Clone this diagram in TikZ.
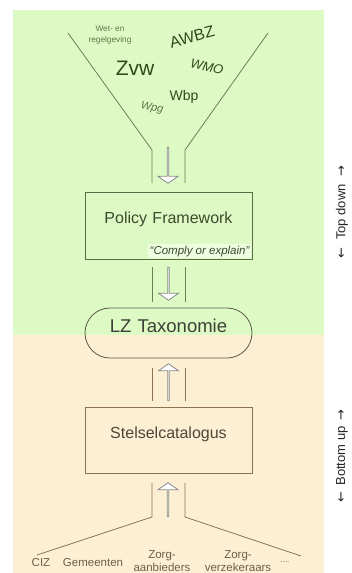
\documentclass[tikz,border=0pt]{standalone}
\usepackage{xcolor}
\usepackage{fontspec}
\setmainfont{Liberation Sans}
\newfontfamily\pijlfont{DejaVu Sans}
\usepackage{tikz}
\usetikzlibrary{shapes.geometric, shapes.arrows, arrows, calc, positioning, fit}

\definecolor{topgreen}{HTML}{DDFAC4}
\definecolor{bottompeach}{HTML}{FDEFD3}
\definecolor{funnelline}{HTML}{6B7F55}
\definecolor{lawgreen}{HTML}{2F4A1C}
\definecolor{lawlight}{HTML}{5E7548}
\definecolor{policyline}{HTML}{5B6B45}
\definecolor{policytext}{HTML}{3D4A2E}
\definecolor{complybg}{HTML}{EEFCE2}
\definecolor{lzline}{HTML}{5A5A48}
\definecolor{lztext}{HTML}{3F3F37}
\definecolor{catline}{HTML}{8C7452}
\definecolor{cattext}{HTML}{4D4638}
\definecolor{sourcetext}{HTML}{6E5E48}
\definecolor{arrowgray}{HTML}{8A8A8A}

\begin{document}
\begin{tikzpicture}[x=1pt, y=1pt,
  blockarrow/.style = {single arrow, draw=arrowgray, fill=white, inner sep=0pt, line width=0.8pt,
    minimum width=20pt, single arrow head extend=5pt, single arrow tip angle=110}]
					\tikzset{kader/.style={draw, rectangle, inner sep=0pt, align=center, thick, font=\fontsize{16}{18}\selectfont}}
					\tikzset{law/.style={text=lawgreen, inner sep=0pt}}
					\tikzset{lijn/.style={line width=0.8pt}}

					\useasboundingbox (0,0) rectangle (351,-573);

					% Achtergrond
					\fill[topgreen] (13,-10) rectangle (324,-335);
					\fill[bottompeach] (13,-335) rectangle (324,-573);

					% Trechter (top down)
					\draw[funnelline, lijn] (68,-33) -- (152,-150) -- (152,-183);
					\draw[funnelline, lijn] (268,-33) -- (185,-150) -- (185,-183);

					\node[law, text=lawlight, align=center, font=\fontsize{8.3}{11}\selectfont] (wet) at (110,-35) {Wet- en\\regelgeving};
					\node[law, rotate=15, font=\fontsize{16}{18}\selectfont] (awbz) at (192,-37) {AWBZ};
					\node[law, font=\fontsize{21}{24}\selectfont] (zvw) at (135,-68) {Zvw};
					\node[law, rotate=-12, font=\itshape\fontsize{13}{15}\selectfont] (wmo) at (207,-67) {WMO};
					\node[law, font=\fontsize{14}{16}\selectfont] (wbp) at (184,-97) {Wbp};
					\node[law, text=lawlight, rotate=-12, font=\itshape\fontsize{11}{13}\selectfont] (wpg) at (152,-108) {Wpg};

					% Blokken
					\node[fit={(85,-192) (252,-259)}, kader, draw=policyline, text=policytext] (policy) {Policy Framework};
					\node[anchor=south east, inner sep=2pt, fill=complybg, text=policytext, font=\itshape\fontsize{11.5}{13}\selectfont] (comply) at ($(policy.south east)+(-0.8,0.8)$) {\textquotedblleft Comply or explain\textquotedblright};
					\node[fit={(85,-308) (252,-358)}, kader, draw=lzline, text=lztext, rounded corners=25pt, font=\fontsize{18.5}{20}\selectfont] (lz) {LZ Taxonomie};
					\node[fit={(85,-407) (252,-473)}, kader, draw=catline, text=cattext] (stelsel) {Stelselcatalogus};

					\draw[funnelline, lijn] (152,-267) -- (152,-302);
					\draw[funnelline, lijn] (185,-267) -- (185,-302);
					\draw[catline, lijn] (152,-368) -- (152,-401);
					\draw[catline, lijn] (185,-368) -- (185,-401);

					% Bronnen (bottom up)
					\draw[catline, lijn] (152,-483) -- (152,-517) -- (37,-555);
					\draw[catline, lijn] (185,-483) -- (185,-517) -- (301,-556);

					\tikzset{bron/.style={text=sourcetext, align=center, inner sep=0pt, font=\fontsize{11.5}{13}\selectfont}}
					\node[bron] (ciz) at (41,-563) {CIZ};
					\node[bron] (gem) at (93,-563) {Gemeenten};
					\node[bron] (aanb) at (162,-561) {Zorg-\\aanbieders};
					\node[bron] (verz) at (238,-561) {Zorg-\\verzekeraars};
					\node[bron, font=\fontsize{8}{9}\selectfont] (meer) at (285,-562) {....};

					% Pijlen
					\node[blockarrow, rotate=-90, minimum height=36pt] (a1) at (168,-165) {};
					\node[blockarrow, rotate=-90, minimum height=33pt] (a2) at ($(policy.south)!0.5!(lz.north)$) {};
					\node[blockarrow, rotate=90, minimum height=37pt] (a3) at ($(lz.south)!0.5!(stelsel.north)$) {};
					\node[blockarrow, rotate=90, minimum height=34pt] (a4) at (168,-500) {};

					% Richting
					\tikzset{richting/.style={rotate=90, inner sep=0pt, text=black!85, font=\fontsize{13}{15}\selectfont}}
					\node[richting] (topdown) at (342,-212) {{\pijlfont ←}\hspace{4pt} Top down\hspace{4pt} {\pijlfont →}};
					\node[richting] (bottomup) at (342,-456) {{\pijlfont ←}\hspace{2pt} Bottom up\hspace{2pt} {\pijlfont →}};

				\end{tikzpicture}
\end{document}
